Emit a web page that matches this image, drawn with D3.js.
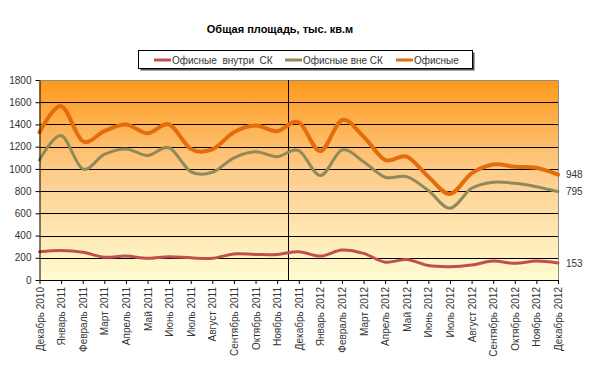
<!DOCTYPE html>
<html>
<head>
<meta charset="utf-8">
<script src="https://cdn.jsdelivr.net/npm/d3@7"></script>
<style>
  body { margin: 0; background: #fff; }
  svg { display: block; font-family: "Liberation Sans", Arial, sans-serif; }
</style>
</head>
<body>
<svg id="chart" width="600" height="368"></svg>
<script>
// months on the category axis
const months = [
    "Декабрь 2010", "Январь 2011", "Февраль 2011", "Март 2011", "Апрель 2011",
    "Май 2011", "Июнь 2011", "Июль 2011", "Август 2011", "Сентябрь 2011",
    "Октябрь 2011", "Ноябрь 2011", "Декабрь 2011", "Январь 2012", "Февраль 2012",
    "Март 2012", "Апрель 2012", "Май 2012", "Июнь 2012", "Июль 2012",
    "Август 2012", "Сентябрь 2012", "Октябрь 2012", "Ноябрь 2012", "Декабрь 2012"
];

// series values, thousand sq.m
const insideSK = [255, 265, 250, 205, 215, 195, 210, 200, 195, 235, 230, 230, 255,
    215, 270, 240, 160, 185, 130, 120, 135, 170, 150, 170, 153];
const outsideSK = [1080, 1300, 1000, 1130, 1180, 1120, 1190, 975, 970, 1100, 1155, 1110, 1165,
    940, 1170, 1065, 925, 930, 805, 645, 825, 880, 870, 840, 795];
const offices = [1330, 1565, 1250, 1340, 1400, 1320, 1400, 1180, 1175, 1330, 1390, 1340, 1420,
    1160, 1440, 1290, 1080, 1110, 930, 775, 960, 1040, 1020, 1010, 948];

const yTicks = [0, 200, 400, 600, 800, 1000, 1200, 1400, 1600, 1800];
const title = "Общая площадь, тыс. кв.м";
const separatorAfter = "Ноябрь 2011";

const series = [
    {name: "Офисные  внутри  СК", values: insideSK, color: "#c0504d", width: 3},
    {name: "Офисные вне СК", values: outsideSK, color: "#8f8a5a", width: 3},
    {name: "Офисные", values: offices, color: "#e46c0a", width: 4}
];

const svg = d3.select("#chart");
const plot = {left: 39.5, right: 558, top: 80, bottom: 280};

const x = d3.scalePoint()
    .domain(months)
    .range([plot.left, plot.right]);

const y = d3.scaleLinear()
    .domain([0, 1800])
    .range([plot.bottom, plot.top]);

// background gradient
const grad = svg.append("defs").append("linearGradient")
    .attr("id", "bg")
    .attr("x1", 0).attr("y1", 0).attr("x2", 0).attr("y2", 1);
grad.append("stop").attr("offset", "0%").attr("stop-color", "#fe991a");
grad.append("stop").attr("offset", "45%").attr("stop-color", "#fdcb88");
grad.append("stop").attr("offset", "100%").attr("stop-color", "#fffcd0");

svg.append("rect")
    .attr("x", plot.left)
    .attr("y", plot.top)
    .attr("width", plot.right - plot.left)
    .attr("height", plot.bottom - plot.top)
    .attr("fill", "url(#bg)");

// horizontal gridlines
svg.append("g")
    .selectAll("line")
    .data(yTicks.filter(d => d > 0 && d < 1800))
    .join("line")
    .attr("x1", plot.left)
    .attr("x2", plot.right)
    .attr("y1", d => Math.round(y(d)) + 0.5)
    .attr("y2", d => Math.round(y(d)) + 0.5)
    .attr("stroke", "#000")
    .attr("stroke-width", 1);

// plot border top/right
svg.append("path")
    .attr("d", `M${plot.left},${plot.top + 0.5}H${plot.right + 0.5}V${plot.bottom}`)
    .attr("fill", "none")
    .attr("stroke", "#8c8c8c")
    .attr("stroke-width", 1);

// separator between years
const step = x.step();
const sepX = Math.round(x(separatorAfter) + step / 2) + 0.5;
svg.append("line")
    .attr("x1", sepX).attr("x2", sepX)
    .attr("y1", plot.top).attr("y2", plot.bottom)
    .attr("stroke", "#000")
    .attr("stroke-width", 1);

// lines
const line = d3.line()
    .x((d, i) => x(months[i]))
    .y(d => y(d))
    .curve(d3.curveCardinal.tension(0));

series.forEach(s => {
    svg.append("path")
        .datum(s.values)
        .attr("fill", "none")
        .attr("stroke", s.color)
        .attr("stroke-width", s.width)
        .attr("stroke-linejoin", "round")
        .attr("stroke-linecap", "round")
        .attr("d", line);
});

// y axis
const yAxis = svg.append("g")
    .attr("transform", `translate(${plot.left},0)`)
    .call(d3.axisLeft(y).tickValues(yTicks).tickFormat(d3.format("d"))
        .tickSize(4).tickSizeOuter(0).tickPadding(4));
yAxis.select(".domain").attr("stroke", "#000");
yAxis.selectAll(".tick line").attr("stroke", "#000");
yAxis.selectAll("text")
    .style("font-size", "10px")
    .attr("fill", "#333");

// x axis
const xAxis = svg.append("g")
    .attr("transform", `translate(0,${plot.bottom})`)
    .call(d3.axisBottom(x).tickSize(4).tickSizeOuter(0).tickPadding(4));
xAxis.select(".domain").attr("stroke", "#000");
xAxis.selectAll(".tick line").attr("stroke", "#000");
xAxis.selectAll("text")
    .style("font-size", "10px")
    .attr("fill", "#333")
    .attr("text-anchor", "end")
    .attr("transform", "rotate(-90)")
    .attr("x", -7)
    .attr("y", 0)
    .attr("dy", "0.35em");

// end value labels
series.forEach(s => {
    const last = s.values[s.values.length - 1];
    svg.append("text")
        .attr("x", plot.right + 8)
        .attr("y", y(last))
        .attr("dy", "0.35em")
        .style("font-size", "10px")
        .attr("fill", "#333")
        .text(last);
});

// title
svg.append("text")
    .attr("x", 280)
    .attr("y", 33)
    .attr("text-anchor", "middle")
    .style("font-size", "11px")
    .style("font-weight", "bold")
    .text(title);

// legend
const legend = svg.append("g");
legend.append("rect")
    .attr("x", 140.5).attr("y", 52.5)
    .attr("width", 334).attr("height", 18)
    .attr("fill", "#555");
legend.append("rect")
    .attr("x", 138.5).attr("y", 50.5)
    .attr("width", 334).attr("height", 18)
    .attr("fill", "#fff")
    .attr("stroke", "#000");

const legendX = [154, 285, 396];
series.forEach((s, i) => {
    legend.append("line")
        .attr("x1", legendX[i]).attr("x2", legendX[i] + 17)
        .attr("y1", 60).attr("y2", 60)
        .attr("stroke", s.color)
        .attr("stroke-width", 3);
    legend.append("text")
        .attr("x", legendX[i] + 18)
        .attr("y", 60)
        .attr("dy", "0.35em")
        .style("font-size", "10px")
        .style("white-space", "pre")
        .attr("fill", "#333")
        .text(s.name);
});
</script>
</body>
</html>
